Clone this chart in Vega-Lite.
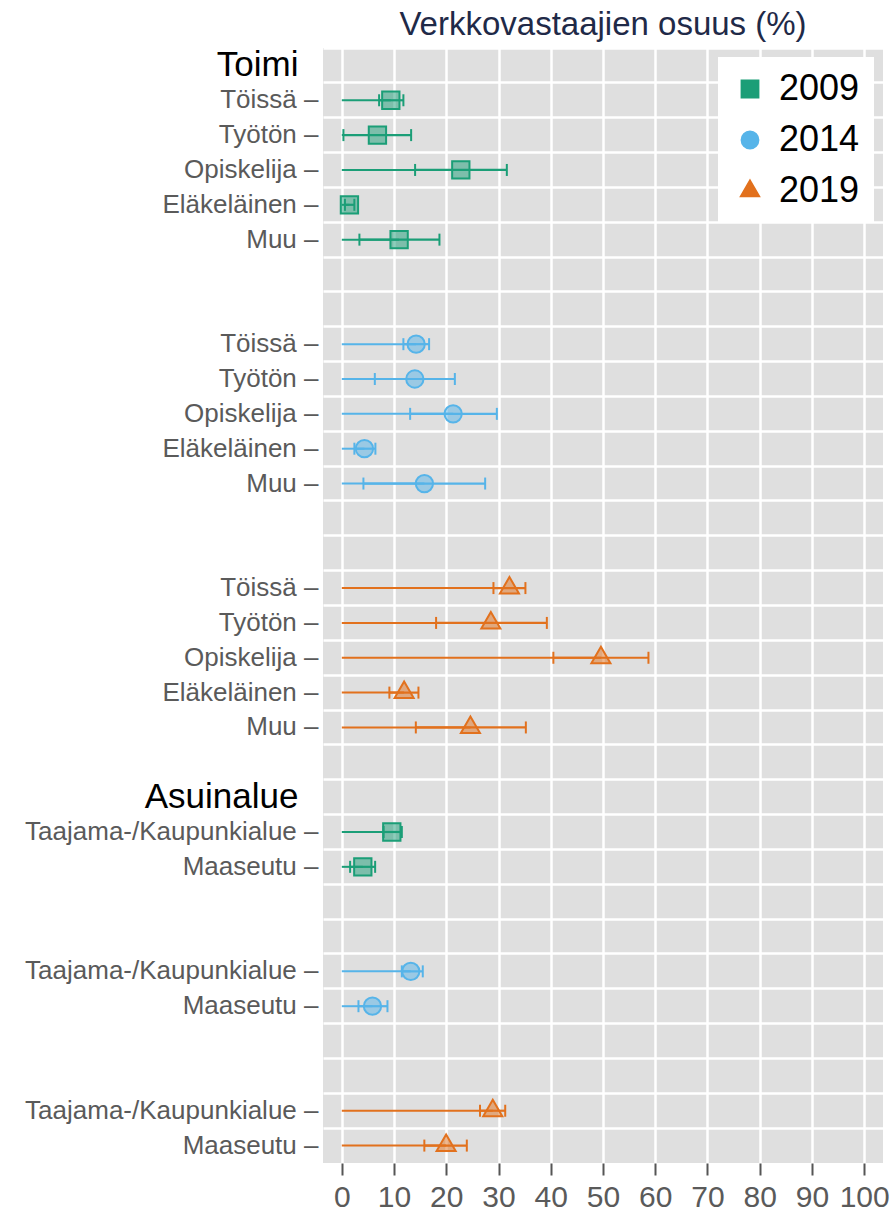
{
  "$schema": "https://vega.github.io/schema/vega-lite/v6.json",
  "width": 560,
  "height": 1115,
  "autosize": {"type": "none"},
  "padding": {"left": 323, "top": 48, "right": 7, "bottom": 48},
  "background": "white",
  "title": {"text": "Verkkovastaajien osuus (%)", "anchor": "middle", "frame": "group", "fontSize": 33, "font": "Liberation Sans", "fontWeight": "normal", "color": "#1f2a48", "offset": 6},
  "config": {"view": {"fill": "#dfdfdf", "stroke": null}, "font": "Liberation Sans"},
  "data": {"values": [
    {"row": "2009 Töissä", "year": "2009", "group": "Toimi", "category": "Töissä", "est": 9.38, "lo": 7.14, "hi": 11.79},
    {"row": "2009 Työtön", "year": "2009", "group": "Toimi", "category": "Työtön", "est": 6.82, "lo": 0.31, "hi": 13.27},
    {"row": "2009 Opiskelija", "year": "2009", "group": "Toimi", "category": "Opiskelija", "est": 22.78, "lo": 14.03, "hi": 31.59},
    {"row": "2009 Eläkeläinen", "year": "2009", "group": "Toimi", "category": "Eläkeläinen", "est": 1.46, "lo": 0.6, "hi": 2.4},
    {"row": "2009 Muu", "year": "2009", "group": "Toimi", "category": "Muu", "est": 10.97, "lo": 3.37, "hi": 18.69},
    {"row": "2014 Töissä", "year": "2014", "group": "Toimi", "category": "Töissä", "est": 14.23, "lo": 11.79, "hi": 16.71},
    {"row": "2014 Työtön", "year": "2014", "group": "Toimi", "category": "Työtön", "est": 13.98, "lo": 6.32, "hi": 21.64},
    {"row": "2014 Opiskelija", "year": "2014", "group": "Toimi", "category": "Opiskelija", "est": 21.31, "lo": 13.08, "hi": 29.68},
    {"row": "2014 Eläkeläinen", "year": "2014", "group": "Toimi", "category": "Eläkeläinen", "est": 4.33, "lo": 2.41, "hi": 6.43},
    {"row": "2014 Muu", "year": "2014", "group": "Toimi", "category": "Muu", "est": 15.81, "lo": 4.14, "hi": 27.44},
    {"row": "2019 Töissä", "year": "2019", "group": "Toimi", "category": "Töissä", "est": 32.09, "lo": 29.03, "hi": 35.15},
    {"row": "2019 Työtön", "year": "2019", "group": "Toimi", "category": "Työtön", "est": 28.53, "lo": 18.05, "hi": 39.25},
    {"row": "2019 Opiskelija", "year": "2019", "group": "Toimi", "category": "Opiskelija", "est": 49.6, "lo": 40.5, "hi": 58.7},
    {"row": "2019 Eläkeläinen", "year": "2019", "group": "Toimi", "category": "Eläkeläinen", "est": 11.93, "lo": 9.11, "hi": 14.67},
    {"row": "2019 Muu", "year": "2019", "group": "Toimi", "category": "Muu", "est": 24.62, "lo": 14.17, "hi": 35.23},
    {"row": "2009 Taajama-/Kaupunkialue", "year": "2009", "group": "Asuinalue", "category": "Taajama-/Kaupunkialue", "est": 9.57, "lo": 8.0, "hi": 11.49},
    {"row": "2009 Maaseutu", "year": "2009", "group": "Asuinalue", "category": "Maaseutu", "est": 4.02, "lo": 1.59, "hi": 6.38},
    {"row": "2014 Taajama-/Kaupunkialue", "year": "2014", "group": "Asuinalue", "category": "Taajama-/Kaupunkialue", "est": 13.2, "lo": 11.49, "hi": 15.5},
    {"row": "2014 Maaseutu", "year": "2014", "group": "Asuinalue", "category": "Maaseutu", "est": 5.87, "lo": 3.19, "hi": 8.74},
    {"row": "2019 Taajama-/Kaupunkialue", "year": "2019", "group": "Asuinalue", "category": "Taajama-/Kaupunkialue", "est": 28.9, "lo": 26.46, "hi": 31.28},
    {"row": "2019 Maaseutu", "year": "2019", "group": "Asuinalue", "category": "Maaseutu", "est": 19.97, "lo": 15.8, "hi": 23.93}
  ]},
  "encoding": {
    "y": {
      "field": "row",
      "type": "nominal",
      "sort": null,
      "scale": {
        "type": "band",
        "paddingInner": 0,
        "paddingOuter": 0,
        "domain": ["Toimi", "2009 Töissä", "2009 Työtön", "2009 Opiskelija", "2009 Eläkeläinen", "2009 Muu", "gap1", "gap2",
                   "2014 Töissä", "2014 Työtön", "2014 Opiskelija", "2014 Eläkeläinen", "2014 Muu", "gap3", "gap4",
                   "2019 Töissä", "2019 Työtön", "2019 Opiskelija", "2019 Eläkeläinen", "2019 Muu", "gap5", "Asuinalue",
                   "2009 Taajama-/Kaupunkialue", "2009 Maaseutu", "gap6", "gap7",
                   "2014 Taajama-/Kaupunkialue", "2014 Maaseutu", "gap8", "gap9",
                   "2019 Taajama-/Kaupunkialue", "2019 Maaseutu"]
      },
      "axis": {
        "title": null,
        "domain": false,
        "ticks": false,
        "grid": true,
        "bandPosition": 0,
        "gridColor": "white",
        "gridWidth": 2.5,
        "labelFont": "Liberation Sans",
        "labelOverlap": false,
        "labelBound": false,
        "labelLimit": 500,
        "labelExpr": "indexof(datum.value, 'gap') == 0 ? '' : ((datum.value == 'Toimi' || datum.value == 'Asuinalue') ? datum.value : substring(datum.value, 5) + ' –')",
        "labelFontSize": {"condition": {"test": "datum.value == 'Toimi' || datum.value == 'Asuinalue'", "value": 35}, "value": 26},
        "labelColor": {"condition": {"test": "datum.value == 'Toimi' || datum.value == 'Asuinalue'", "value": "#000000"}, "value": "#5a5a5a"},
        "labelPadding": {"condition": {"test": "datum.value == 'Toimi' || datum.value == 'Asuinalue'", "value": 25}, "value": 5}
      }
    }
  },
  "layer": [
    {
      "mark": {"type": "bar", "size": 2, "opacity": 1},
      "encoding": {
        "x": {
          "field": "est",
          "type": "quantitative",
          "scale": {"domain": [-3.6, 103.6], "nice": false, "zero": false},
          "axis": {
            "title": null,
            "values": [0, 10, 20, 30, 40, 50, 60, 70, 80, 90, 100],
            "grid": true,
            "gridColor": "white",
            "gridWidth": 2.5,
            "domain": false,
            "tickColor": "#555555",
            "tickSize": 12,
            "tickWidth": 2,
            "labelFont": "Liberation Sans",
            "labelFontSize": 30,
            "labelColor": "#5a5a5a",
            "labelPadding": 7
          }
        },
        "color": {"field": "year", "type": "nominal", "scale": {"domain": ["2009", "2014", "2019"], "range": ["#1b9e77", "#56b4e9", "#e2711d"]}}
      }
    },
    {
      "mark": {"type": "rule", "strokeWidth": 2.2, "opacity": 1},
      "encoding": {
        "x": {"field": "lo", "type": "quantitative"},
        "x2": {"field": "hi"},
        "color": {"field": "year", "type": "nominal"}
      }
    },
    {
      "mark": {"type": "tick", "orient": "vertical", "size": 12, "thickness": 2, "opacity": 1},
      "encoding": {
        "x": {"field": "lo", "type": "quantitative"},
        "color": {"field": "year", "type": "nominal"}
      }
    },
    {
      "mark": {"type": "tick", "orient": "vertical", "size": 12, "thickness": 2, "opacity": 1},
      "encoding": {
        "x": {"field": "hi", "type": "quantitative"},
        "color": {"field": "year", "type": "nominal"}
      }
    },
    {
      "mark": {"type": "point", "filled": true, "opacity": 1, "fillOpacity": 0.5, "strokeWidth": 2, "size": 300},
      "encoding": {
        "x": {"field": "est", "type": "quantitative"},
        "fill": {"field": "year", "type": "nominal", "scale": {"domain": ["2009", "2014", "2019"], "range": ["#1b9e77", "#56b4e9", "#e2711d"]}},
        "stroke": {"field": "year", "type": "nominal", "scale": {"domain": ["2009", "2014", "2019"], "range": ["#1b9e77", "#56b4e9", "#e2711d"]}},
        "shape": {
          "field": "year",
          "type": "nominal",
          "scale": {"domain": ["2009", "2014", "2019"], "range": ["square", "circle", "M0,-1.27L1.1,0.635L-1.1,0.635Z"]},
          "legend": {
            "title": null,
            "orient": "top-right",
            "offset": 9,
            "fillColor": "white",
            "padding": 14,
            "labelFont": "Liberation Sans",
            "labelFontSize": 36,
            "labelColor": "#000000",
            "symbolSize": 300,
            "rowPadding": 15,
            "labelOffset": 11
          }
        }
      }
    }
  ]
}
